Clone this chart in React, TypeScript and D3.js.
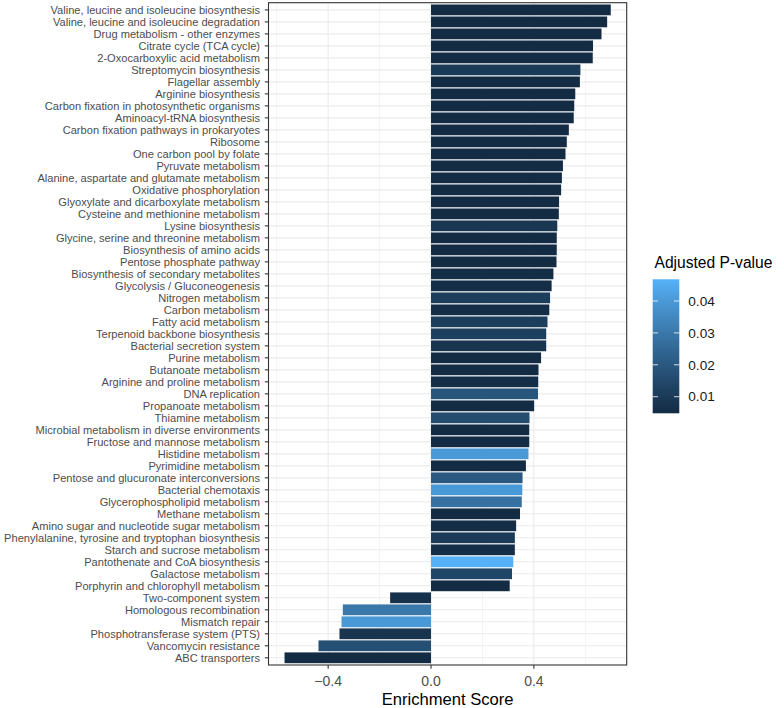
import React from 'react'
import * as d3 from 'd3'

const pathways = [
  'Valine, leucine and isoleucine biosynthesis',
  'Valine, leucine and isoleucine degradation',
  'Drug metabolism - other enzymes',
  'Citrate cycle (TCA cycle)',
  '2-Oxocarboxylic acid metabolism',
  'Streptomycin biosynthesis',
  'Flagellar assembly',
  'Arginine biosynthesis',
  'Carbon fixation in photosynthetic organisms',
  'Aminoacyl-tRNA biosynthesis',
  'Carbon fixation pathways in prokaryotes',
  'Ribosome',
  'One carbon pool by folate',
  'Pyruvate metabolism',
  'Alanine, aspartate and glutamate metabolism',
  'Oxidative phosphorylation',
  'Glyoxylate and dicarboxylate metabolism',
  'Cysteine and methionine metabolism',
  'Lysine biosynthesis',
  'Glycine, serine and threonine metabolism',
  'Biosynthesis of amino acids',
  'Pentose phosphate pathway',
  'Biosynthesis of secondary metabolites',
  'Glycolysis / Gluconeogenesis',
  'Nitrogen metabolism',
  'Carbon metabolism',
  'Fatty acid metabolism',
  'Terpenoid backbone biosynthesis',
  'Bacterial secretion system',
  'Purine metabolism',
  'Butanoate metabolism',
  'Arginine and proline metabolism',
  'DNA replication',
  'Propanoate metabolism',
  'Thiamine metabolism',
  'Microbial metabolism in diverse environments',
  'Fructose and mannose metabolism',
  'Histidine metabolism',
  'Pyrimidine metabolism',
  'Pentose and glucuronate interconversions',
  'Bacterial chemotaxis',
  'Glycerophospholipid metabolism',
  'Methane metabolism',
  'Amino sugar and nucleotide sugar metabolism',
  'Phenylalanine, tyrosine and tryptophan biosynthesis',
  'Starch and sucrose metabolism',
  'Pantothenate and CoA biosynthesis',
  'Galactose metabolism',
  'Porphyrin and chlorophyll metabolism',
  'Two-component system',
  'Homologous recombination',
  'Mismatch repair',
  'Phosphotransferase system (PTS)',
  'Vancomycin resistance',
  'ABC transporters',
]

const enrichment = [
  0.699, 0.685, 0.663, 0.630, 0.629, 0.581, 0.579, 0.561, 0.557, 0.555,
  0.536, 0.528, 0.523, 0.513, 0.509, 0.506, 0.498, 0.497, 0.491, 0.489,
  0.489, 0.488, 0.476, 0.469, 0.463, 0.460, 0.453, 0.448, 0.448, 0.428,
  0.418, 0.417, 0.416, 0.401, 0.383, 0.382, 0.382, 0.379, 0.369, 0.356,
  0.355, 0.353, 0.346, 0.331, 0.326, 0.326, 0.320, 0.315, 0.306,
  -0.159, -0.343, -0.348, -0.356, -0.4375, -0.5696,
]

const padj = [
  0.005, 0.005, 0.005, 0.005, 0.005, 0.010, 0.005, 0.005, 0.005, 0.005,
  0.005, 0.005, 0.005, 0.005, 0.005, 0.005, 0.005, 0.005, 0.009, 0.005,
  0.005, 0.005, 0.006, 0.006, 0.011, 0.006, 0.011, 0.012, 0.008, 0.005,
  0.005, 0.006, 0.019, 0.005, 0.016, 0.005, 0.005, 0.040, 0.005, 0.020,
  0.040, 0.028, 0.005, 0.006, 0.010, 0.006, 0.0468, 0.014, 0.005,
  0.007, 0.030, 0.040, 0.008, 0.017, 0.005,
]

const xMajor = [-0.4, 0, 0.4]
const xMinor = [-0.6, -0.2, 0.2, 0.6]
const legendTicks = [0.01, 0.02, 0.03, 0.04]

const font = '"Liberation Sans", Arial, sans-serif'

const App = () => {
  const left = 268.5, right = 626.7, top = 2.7, bottom = 665

  const x = d3.scaleLinear().domain([-0.632, 0.761]).range([left, right])
  const y = d3.scaleBand<string>().domain(pathways).range([top, bottom])
    .paddingInner(0.1).paddingOuter(0.15)
  const pExtent: [number, number] = [0.0048, 0.0468]
  const color = d3.scaleLinear<string>().domain(pExtent)
    .range(['#132B43', '#56B1F7']).interpolate(d3.interpolateLab)

  const lgX = 652.7, lgW = 26.6, lgTop = 279.3, lgBot = 413.3
  const lgY = d3.scaleLinear().domain(pExtent).range([lgBot, lgTop])
  const stops = d3.range(0, 1.0001, 0.1)

  return (
    <svg width={784} height={708} style={{ display: 'block', position: 'absolute', left: 0, top: 0 }}>
      <rect width={784} height={708} fill="white" />
      <defs>
        <linearGradient id="pgrad" x1="0" y1="1" x2="0" y2="0">
          {stops.map((s) => (
            <stop key={s} offset={s} stopColor={color(pExtent[0] + s * (pExtent[1] - pExtent[0]))} />
          ))}
        </linearGradient>
      </defs>

      {/* grid */}
      {xMinor.map((v) => (
        <line key={'mi' + v} x1={x(v)} x2={x(v)} y1={top} y2={bottom} stroke="#EBEBEB" strokeWidth={0.6} />
      ))}
      {xMajor.map((v) => (
        <line key={'ma' + v} x1={x(v)} x2={x(v)} y1={top} y2={bottom} stroke="#EBEBEB" strokeWidth={1.1} />
      ))}
      {pathways.map((p) => (
        <line key={'h' + p} x1={left} x2={right} y1={y(p)! + y.bandwidth() / 2} y2={y(p)! + y.bandwidth() / 2}
          stroke="#EBEBEB" strokeWidth={1.1} />
      ))}

      {/* bars */}
      {pathways.map((p, i) => (
        <rect key={'b' + p}
          x={x(Math.min(0, enrichment[i]))}
          width={Math.abs(x(enrichment[i]) - x(0))}
          y={y(p)}
          height={y.bandwidth()}
          fill={color(padj[i])} />
      ))}

      <rect x={left} y={top} width={right - left} height={bottom - top} fill="none" stroke="#333333" strokeWidth={1.1} />

      {/* y axis */}
      {pathways.map((p) => {
        const cy = y(p)! + y.bandwidth() / 2
        return (
          <g key={'yl' + p}>
            <line x1={left - 3.7} x2={left} y1={cy} y2={cy} stroke="#333333" strokeWidth={1.1} />
            <text x={left - 8.5} y={cy} dy="0.35em" textAnchor="end" fontFamily={font} fontSize={11.1} fill="#4D4D4D">{p}</text>
          </g>
        )
      })}

      {/* x axis */}
      {xMajor.map((v) => (
        <g key={'xt' + v}>
          <line x1={x(v)} x2={x(v)} y1={bottom} y2={bottom + 3.7} stroke="#333333" strokeWidth={1.1} />
          <text x={x(v)} y={bottom + 15.7} dy="0.35em" textAnchor="middle" fontFamily={font} fontSize={14} fill="#4D4D4D">
            {d3.format('.1f')(v)}
          </text>
        </g>
      ))}
      <text x={(left + right) / 2} y={699} dy="0.35em" textAnchor="middle" fontFamily={font} fontSize={16.6} fill="black">Enrichment Score</text>

      {/* legend */}
      <text x={654.5} y={268} fontFamily={font} fontSize={15.6} fill="black">Adjusted P-value</text>
      <rect x={lgX} y={lgTop} width={lgW} height={lgBot - lgTop} fill="url(#pgrad)" />
      {legendTicks.map((t) => (
        <g key={'lt' + t}>
          <line x1={lgX} x2={lgX + lgW / 5} y1={lgY(t)} y2={lgY(t)} stroke="white" strokeWidth={0.8} />
          <line x1={lgX + lgW * 4 / 5} x2={lgX + lgW} y1={lgY(t)} y2={lgY(t)} stroke="white" strokeWidth={0.8} />
          <text x={688.3} y={lgY(t)} dy="0.35em" fontFamily={font} fontSize={13.6} fill="#1A1A1A">{d3.format('.2f')(t)}</text>
        </g>
      ))}
    </svg>
  )
}

export default App
